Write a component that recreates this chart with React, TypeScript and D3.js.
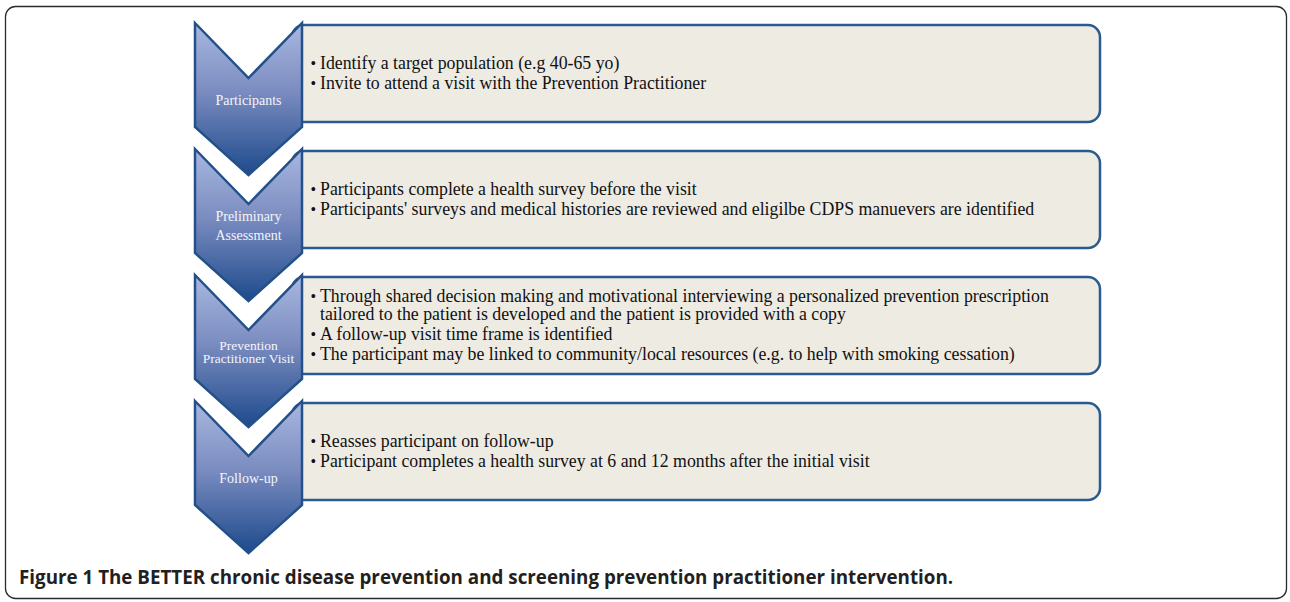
import React from "react";
import * as d3 from "d3";

// step labels shown inside the chevrons (one entry per line)
const stepLabels: string[][] = [
  ["Participants"],
  ["Preliminary", "Assessment"],
  ["Prevention", "Practitioner Visit"],
  ["Follow-up"],
];

// bullet text per box, wrapped lines kept as in the figure
const stepBullets: string[][][] = [
  [["Identify a target population (e.g 40-65 yo)"], ["Invite to attend a visit with the Prevention Practitioner"]],
  [
    ["Participants complete a health survey before the visit"],
    ["Participants' surveys and medical histories are reviewed and eligilbe CDPS manuevers are identified"],
  ],
  [
    [
      "Through shared decision making and motivational interviewing a personalized prevention prescription",
      "tailored to the patient is developed and the patient is provided with a copy",
    ],
    ["A follow-up visit time frame is identified"],
    ["The participant may be linked to community/local resources (e.g. to help with smoking cessation)"],
  ],
  [["Reasses participant on follow-up"], ["Participant completes a health survey at 6 and 12 months after the initial visit"]],
];

const caption = "The BETTER chronic disease prevention and screening prevention practitioner intervention.";

const W = 1290;
const H = 602;

const App = () => {
  const svgRef = React.useRef<SVGSVGElement>(null);

  React.useEffect(() => {
    const svgEl = d3.select(svgRef.current);
    svgEl.selectAll("*").remove();

    const y = d3.scaleLinear().domain([0, 1]).range([23, 149]); // step index -> chevron top
    const chevX0 = 195;
    const chevX1 = 302;
    const chevMid = (chevX0 + chevX1) / 2;
    const notch = 55;
    const side = 104;
    const tip = 152;
    const boxX1 = 1100;
    const boxH = 97;

    const defs = svgEl.append("defs");
    const grad = defs
      .append("linearGradient")
      .attr("id", "chev")
      .attr("x1", 0)
      .attr("y1", 0)
      .attr("x2", 0)
      .attr("y2", 1);
    grad.append("stop").attr("offset", "0%").attr("stop-color", "#a9b8e0");
    grad.append("stop").attr("offset", "45%").attr("stop-color", "#7b8cc0");
    grad.append("stop").attr("offset", "100%").attr("stop-color", "#1d4a8c");

    // outer frame
    svgEl
      .append("rect")
      .attr("x", 5.5)
      .attr("y", 6.5)
      .attr("width", W - 9)
      .attr("height", H - 10)
      .attr("rx", 10)
      .attr("fill", "white")
      .attr("stroke", "#2b2b2b")
      .attr("stroke-width", 1.3);

    const steps = svgEl
      .selectAll("g.step")
      .data(stepLabels)
      .enter()
      .append("g")
      .attr("class", "step");

    // boxes first so the chevron edge sits on top
    steps
      .append("rect")
      .attr("x", chevX1 - 10)
      .attr("y", (_, i) => y(i) + 2)
      .attr("width", boxX1 - chevX1 + 10)
      .attr("height", boxH)
      .attr("rx", 12)
      .attr("fill", "#eeebe3")
      .attr("stroke", "#2a5a8e")
      .attr("stroke-width", 2.5);

    const line = d3.line();
    steps
      .append("path")
      .attr("d", (_, i) => {
        const t = y(i);
        return (
          line([
            [chevX0, t],
            [chevMid, t + notch],
            [chevX1, t],
            [chevX1, t + side],
            [chevMid, t + tip],
            [chevX0, t + side],
          ]) + "Z"
        );
      })
      .attr("fill", "url(#chev)")
      .attr("stroke", "#24508a")
      .attr("stroke-width", 2.5)
      .attr("stroke-linejoin", "miter");

    // chevron labels
    steps.each(function (lines, i) {
      const g = d3.select(this);
      const gap = i === 2 ? 13 : 19;
      const cy = y(i) + 77;
      g.selectAll("text.lab")
        .data(lines)
        .enter()
        .append("text")
        .attr("class", "lab")
        .attr("x", chevMid)
        .attr("y", (_, k) => cy + (k - (lines.length - 1) / 2) * gap + 4.5)
        .attr("text-anchor", "middle")
        .attr("font-family", "'Liberation Serif', serif")
        .attr("font-size", i === 2 ? 13.5 : 14)
        .attr("fill", "#f4f5fa")
        .text((d) => d);

      // bullets in the box
      const bullets = stepBullets[i];
      const nLines = d3.sum(bullets, (b) => b.length);
      const inner = 18;
      const outer = 20;
      const blockH = (nLines - bullets.length) * inner + (bullets.length - 1) * outer;
      let by = y(i) + 2 + boxH / 2 - blockH / 2 + 5;
      bullets.forEach((b) => {
        g.append("text")
          .attr("x", 310.5)
          .attr("y", by)
          .attr("font-family", "'Liberation Serif', serif")
          .attr("font-size", 16)
          .attr("fill", "#111")
          .text("\u2022");
        b.forEach((ln, k) => {
          g.append("text")
            .attr("x", 320)
            .attr("y", by + k * inner)
            .attr("font-family", "'Liberation Serif', serif")
            .attr("font-size", 17.8)
            .attr("fill", "#111")
            .text(ln);
        });
        by += (b.length - 1) * inner + outer;
      });
    });

    // caption
    const cap = svgEl
      .append("text")
      .attr("x", 19)
      .attr("y", 584)
      .attr("font-family", "'Open Sans', sans-serif")
      .attr("font-weight", "bold")
      .attr("font-size", 18.8)
      .attr("fill", "#231f20");
    cap.append("tspan").text("Figure 1 ");
    cap.append("tspan").text(caption);
  }, []);

  return (
    <svg
      ref={svgRef}
      width={W}
      height={H}
      viewBox={`0 0 ${W} ${H}`}
      style={{ position: "absolute", left: 0, top: 0, background: "white" }}
    />
  );
};

export default App;
